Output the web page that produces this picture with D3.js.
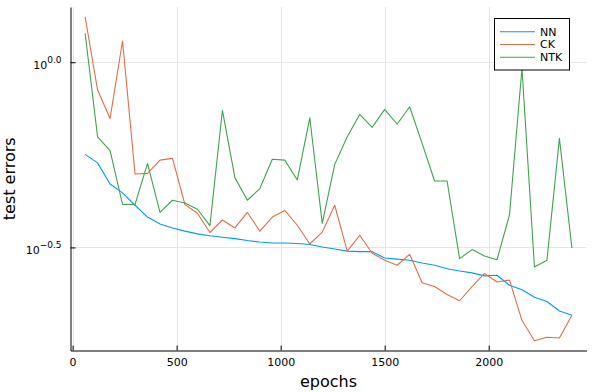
<!DOCTYPE html>
<html>
<head>
<meta charset="utf-8">
<script src="https://cdn.jsdelivr.net/npm/d3@7"></script>
<style>
  html, body { margin: 0; padding: 0; background: #fff; }
  svg { display: block; font-family: "DejaVu Sans", sans-serif; }
</style>
</head>
<body>
<svg width="593" height="392" viewBox="0 0 593 392"></svg>
<script>
// input data
const epochs = [60, 120, 180, 240, 300, 360, 420, 480, 540, 600, 660, 720, 780, 840, 900, 960, 1020, 1080, 1140, 1200,
  1260, 1320, 1380, 1440, 1500, 1560, 1620, 1680, 1740, 1800, 1860, 1920, 1980, 2040, 2100, 2160, 2220, 2280, 2340, 2400];

const nn = [0.564, 0.535, 0.469, 0.444, 0.411, 0.382, 0.366, 0.357, 0.350, 0.344, 0.340, 0.337, 0.334, 0.330, 0.327, 0.325,
  0.325, 0.324, 0.322, 0.317, 0.313, 0.309, 0.308, 0.308, 0.296, 0.294, 0.292, 0.287, 0.283, 0.277, 0.273, 0.270, 0.265,
  0.266, 0.250, 0.243, 0.232, 0.226, 0.213, 0.2075];

const ck = [1.327, 0.841, 0.705, 1.141, 0.499, 0.501, 0.544, 0.550, 0.413, 0.391, 0.347, 0.375, 0.357, 0.393, 0.350, 0.382,
  0.398, 0.363, 0.323, 0.348, 0.411, 0.309, 0.341, 0.305, 0.292, 0.283, 0.303, 0.254, 0.248, 0.236, 0.227, 0.248, 0.269,
  0.255, 0.258, 0.201, 0.177, 0.181, 0.180, 0.2075];

const ntk = [1.197, 0.629, 0.577, 0.413, 0.413, 0.533, 0.393, 0.424, 0.417, 0.401, 0.362, 0.741, 0.488, 0.424, 0.456, 0.547,
  0.544, 0.481, 0.708, 0.367, 0.530, 0.629, 0.723, 0.667, 0.746, 0.680, 0.758, 0.604, 0.478, 0.478, 0.295, 0.312, 0.300,
  0.293, 0.387, 0.963, 0.280, 0.292, 0.623, 0.315];

const seriesNames = ['NN', 'CK', 'NTK'];
const seriesColors = ['#009AFA', '#E26F46', '#3EA44E'];

const xTicks = [0, 500, 1000, 1500, 2000];
// exponents of the log10 ticks
const yTickExponents = [-0.5, 0.0];
const yTickLabels = ['\u22120.5', '0.0'];

const series = [nn, ck, ntk].map((values, i) => ({
  name: seriesNames[i],
  color: seriesColors[i],
  points: values.map((v, j) => [epochs[j], v]),
}));

const svg = d3.select('svg');

// plot area in pixels
const plot = { left: 70.5, right: 586.5, top: 7, bottom: 350.5 };

// widen the extent a little on both sides, as the original plot does
const widen = ([a, b]) => [a - (b - a) * 0.03, b + (b - a) * 0.03];

const x = d3
  .scaleLinear()
  .domain(widen(d3.extent(epochs)))
  .range([plot.left, plot.right]);

const allValues = [...nn, ...ck, ...ntk];
const logExtent = widen(d3.extent(allValues).map(Math.log10));
const y = d3
  .scaleLog()
  .domain(logExtent.map(l => 10 ** l))
  .range([plot.bottom, plot.top]);

// GRID
const grid = svg.append('g').attr('stroke', '#e6e6e6').attr('stroke-width', 1);

grid
  .selectAll('line.vx')
  .data(xTicks)
  .enter()
  .append('line')
  .attr('x1', d => Math.round(x(d)) + 0.5)
  .attr('x2', d => Math.round(x(d)) + 0.5)
  .attr('y1', plot.top)
  .attr('y2', plot.bottom);

grid
  .selectAll('line.hy')
  .data(yTickExponents)
  .enter()
  .append('line')
  .attr('x1', plot.left)
  .attr('x2', plot.right)
  .attr('y1', d => Math.round(y(10 ** d)) + 0.5)
  .attr('y2', d => Math.round(y(10 ** d)) + 0.5);

// LINES
const line = d3
  .line()
  .x(d => x(d[0]))
  .y(d => y(d[1]));

svg
  .append('g')
  .selectAll('path')
  .data(series)
  .enter()
  .append('path')
  .attr('d', d => line(d.points))
  .attr('fill', 'none')
  .attr('stroke', d => d.color)
  .attr('stroke-width', 1.1)
  .attr('stroke-linejoin', 'round');

// AXES
const xAxis = d3
  .axisBottom(x)
  .tickValues(xTicks)
  .tickSizeInner(-5)
  .tickSizeOuter(0)
  .tickPadding(8)
  .tickFormat(d3.format('d'));

const gx = svg
  .append('g')
  .attr('transform', `translate(0 ${plot.bottom})`)
  .call(xAxis);

const yAxis = d3
  .axisLeft(y)
  .tickValues(yTickExponents.map(e => 10 ** e))
  .tickSizeInner(-5)
  .tickSizeOuter(0)
  .tickPadding(9)
  .tickFormat('');

const gy = svg
  .append('g')
  .attr('transform', `translate(${plot.left} 0)`)
  .call(yAxis);

[gx, gy].forEach(g => {
  g.select('.domain').attr('stroke', '#000').attr('stroke-width', 1);
  g.selectAll('.tick line').attr('stroke', '#000');
  g.selectAll('text').attr('font-family', '"DejaVu Sans", sans-serif').attr('fill', '#000');
});

gx.selectAll('.tick text').attr('font-size', 11);

// y tick labels as 10 with a raised exponent
gy.selectAll('.tick text')
  .attr('font-size', 11)
  .attr('dy', null)
  .attr('y', 6.3)
  .each(function(d, i) {
    const t = d3.select(this);
    t.text(null);
    t.append('tspan').text('10');
    t.append('tspan').attr('font-size', 9).attr('dy', -6.3).text(yTickLabels[i]);
  });

// axis titles
svg
  .append('text')
  .attr('x', (plot.left + plot.right) / 2)
  .attr('y', 386.5)
  .attr('text-anchor', 'middle')
  .attr('font-size', 16)
  .text('epochs');

svg
  .append('text')
  .attr('transform', `translate(15 ${(plot.top + plot.bottom) / 2}) rotate(-90)`)
  .attr('text-anchor', 'middle')
  .attr('font-size', 16)
  .text('test errors');

// LEGEND
const legend = svg.append('g').attr('transform', 'translate(494.5 18.5)');

legend
  .append('rect')
  .attr('width', 75)
  .attr('height', 51.5)
  .attr('fill', '#fff')
  .attr('stroke', '#000')
  .attr('stroke-width', 1);

const rows = legend
  .selectAll('g')
  .data(series)
  .enter()
  .append('g')
  .attr('transform', (d, i) => `translate(0 ${13.2 + i * 12.8})`);

rows
  .append('line')
  .attr('x1', 5.5)
  .attr('x2', 40.5)
  .attr('stroke', d => d.color)
  .attr('stroke-width', 1.1);

rows
  .append('text')
  .attr('x', 45.5)
  .attr('dy', '0.36em')
  .attr('font-size', 11)
  .text(d => d.name);
</script>
</body>
</html>
